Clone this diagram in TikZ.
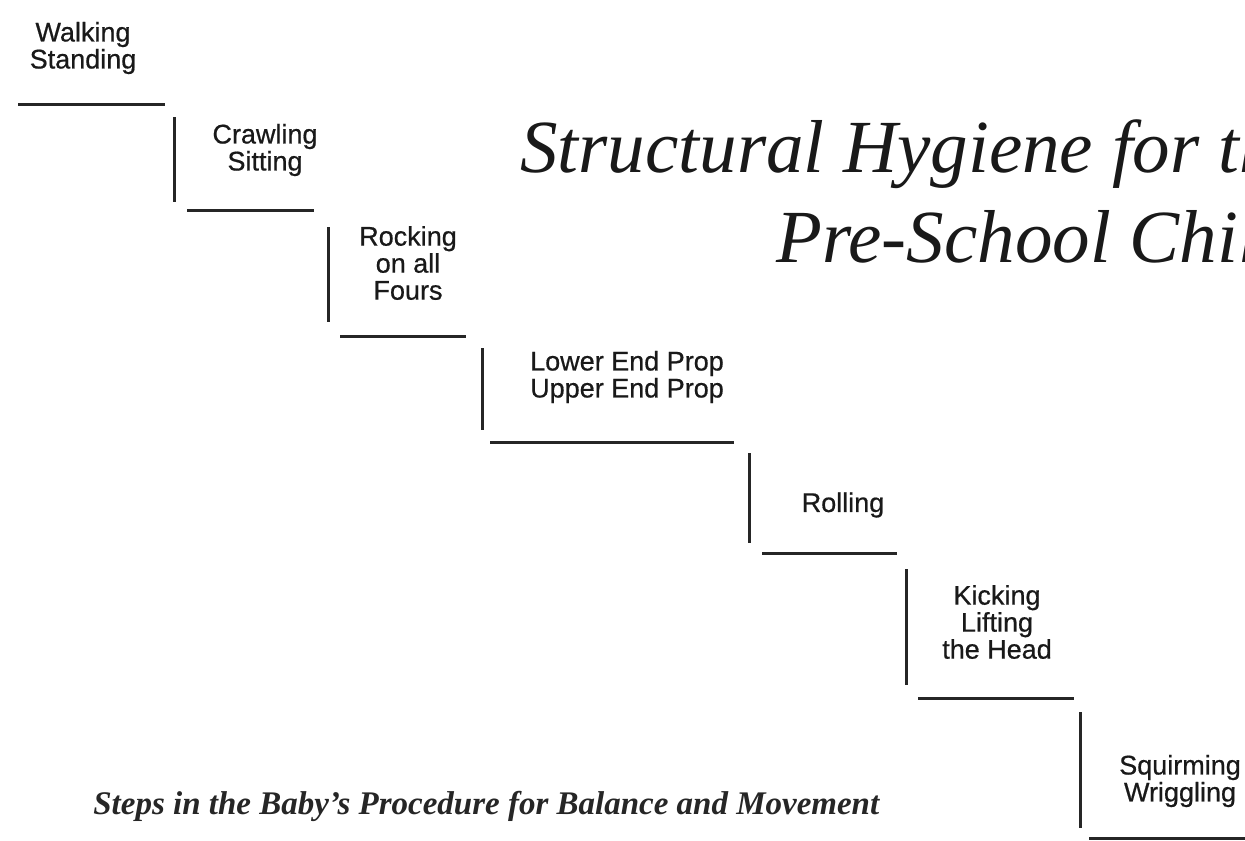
\documentclass[tikz,border=0pt]{standalone}
\usepackage{fontspec}
\setmainfont{Liberation Serif}
\newfontfamily\labelfont{Liberation Sans}[FakeBold=0.6]
\tikzset{
  stepline/.style={line width=1.5pt, draw=black!85},
  steplabel/.style={font=\labelfont\fontsize{13.5}{13.5}\selectfont, align=center, inner sep=0pt, text=black!90},
  titletext/.style={font=\fontsize{37.5}{37.5}\selectfont\itshape, anchor=base west, inner sep=0pt, text=black!90},
  captiontext/.style={font=\fontsize{16.5}{16.5}\selectfont\bfseries\itshape, anchor=base west, inner sep=0pt, text=black!85},
}
\begin{document}
\begin{tikzpicture}[x=0.5pt,y=-0.5pt]
\useasboundingbox (0,0) rectangle (1245,840);
\clip (0,0) rectangle (1245,840);
\fill[white] (0,0) rectangle (1245,840);
% step lines
\draw[stepline] (18,104) -- (165,104);
\draw[stepline] (174,117) -- (174,202);
\draw[stepline] (187,210) -- (314,210);
\draw[stepline] (328,227) -- (328,322);
\draw[stepline] (340,336) -- (466,336);
\draw[stepline] (482,348) -- (482,430);
\draw[stepline] (490,442) -- (734,442);
\draw[stepline] (749,453) -- (749,543);
\draw[stepline] (762,553) -- (897,553);
\draw[stepline] (906,569) -- (906,685);
\draw[stepline] (918,698) -- (1074,698);
\draw[stepline] (1080,712) -- (1080,828);
\draw[stepline] (1089,838) -- (1245,838);
% labels
\node[steplabel] (walk) at (83,48) {Walking\\Standing};
\node[steplabel] (crawl) at (265,150) {Crawling\\Sitting};
\node[steplabel] (rock) at (408,263) {Rocking\\on all\\Fours};
\node[steplabel] (prop) at (627,377) {Lower End Prop\\Upper End Prop};
\node[steplabel] (roll) at (843,505) {Rolling};
\node[steplabel] (kick) at (997,622) {Kicking\\Lifting\\the Head};
\node[steplabel] (squirm) at (1180,781) {Squirming\\Wriggling};
% title
\node[titletext] (title1) at (520,172) {Structural Hygiene for the};
\node[titletext] (title2) at (776,262) {Pre-School Child};
% caption
\node[captiontext] (caption) at (93,814) {Steps in the Baby's Procedure for Balance and Movement};
\end{tikzpicture}
\end{document}
